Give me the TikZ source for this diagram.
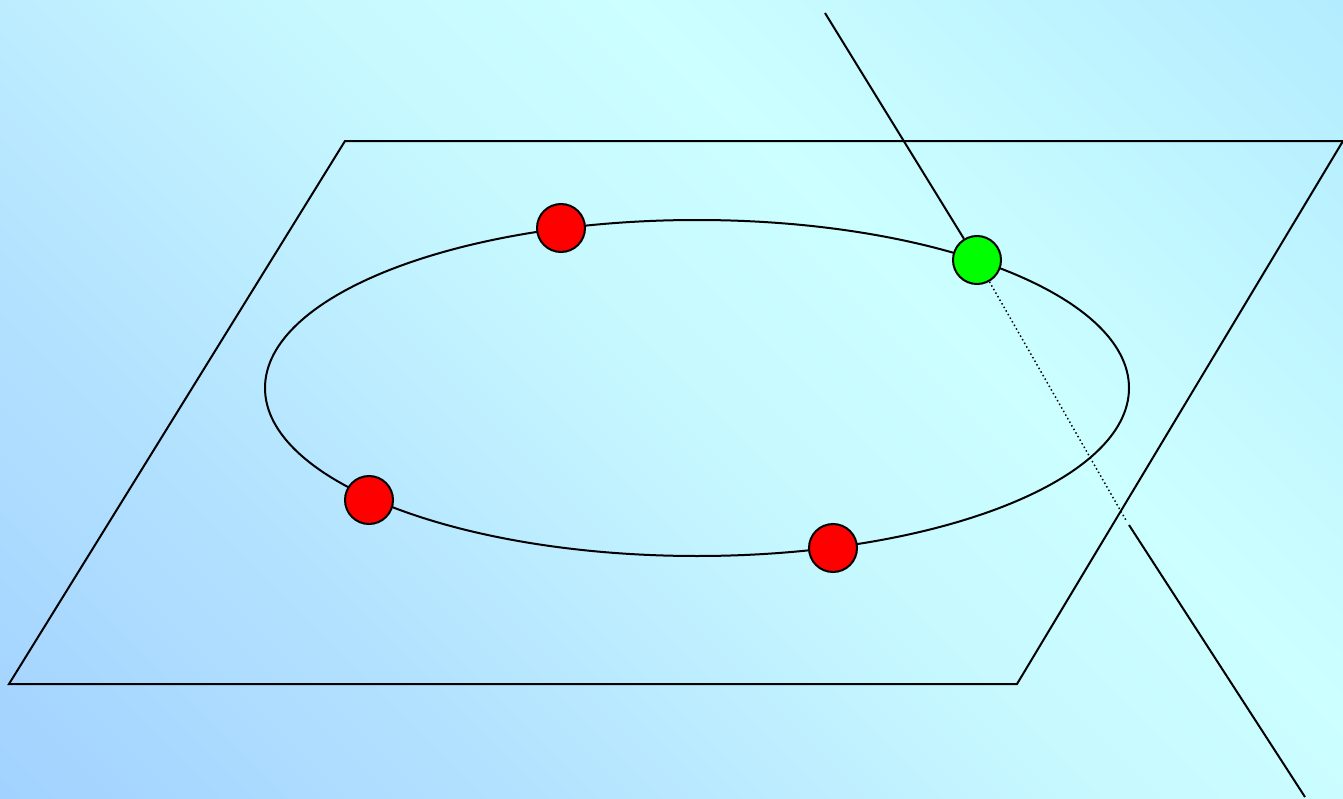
\documentclass[tikz,border=0pt]{standalone}
\usetikzlibrary{calc}
\definecolor{bgA}{HTML}{A2D2FF}
\definecolor{bgAB}{HTML}{B3E2FF}
\definecolor{bgM}{HTML}{C6F8FF}
\definecolor{bgB}{HTML}{CCFFFF}
\definecolor{bgC}{HTML}{B4ECFF}
\definecolor{ballred}{HTML}{FF0000}
\definecolor{ballgreen}{HTML}{00FF00}
\pgfdeclarehorizontalshading{bgshade}{100bp}{color(0bp)=(bgA); color(14.6bp)=(bgA); color(32.3bp)=(bgAB); color(50bp)=(bgM); color(62bp)=(bgB); color(85.4bp)=(bgC); color(100bp)=(bgC)}
\tikzset{
  thin line/.style={line width=1.5pt, black},
  ball/.style={circle, draw=black, line width=1.5pt, minimum size=36pt, inner sep=0pt},
  redball/.style={ball, fill=ballred},
  greenball/.style={ball, fill=ballgreen},
}
\begin{document}
\begin{tikzpicture}[x=0.75pt,y=-0.75pt]
  \useasboundingbox (0,0) rectangle (1343,799);
  \shade[shading=bgshade, shading angle=45] (0,0) rectangle (1343,799);
  % plane
  \coordinate (p1) at (345,141);
  \coordinate (p2) at (1343,141);
  \coordinate (p3) at (1017,684);
  \coordinate (p4) at (9,684);
  \draw[thin line] (p1) -- (p2) -- (p3) -- (p4) -- cycle;
  % orbit
  \draw[thin line] (697,388) ellipse [x radius=432, y radius=168];
  % balls
  \node[redball] (r1) at (561,228) {};
  \node[redball] (r2) at (369,500) {};
  \node[redball] (r3) at (833,548) {};
  \node[greenball] (g) at (977,260) {};
  % line through the green ball
  \coordinate (ltop) at (825,13);
  \coordinate (lcross) at (1127,522);
  \coordinate (lbelow) at (1129,525);
  \coordinate (lend) at (1305,797);
  \draw[thin line] (ltop) -- (g);
  \draw[line width=1.1pt, dotted] (g) -- (lcross);
  \draw[thin line] (lbelow) -- (lend);
\end{tikzpicture}
\end{document}
